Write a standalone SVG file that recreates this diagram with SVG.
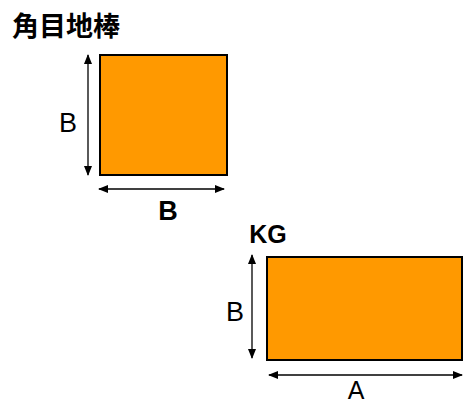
<svg xmlns="http://www.w3.org/2000/svg" width="469" height="405" viewBox="0 0 469 405">
<style>
.box{fill:#FF9900;stroke:#000;stroke-width:2}
.dim{stroke:#000;stroke-width:1.3;fill:none;marker-start:url(#ah);marker-end:url(#ah)}
.lbl{font-family:"Liberation Sans",Arial,sans-serif;font-size:27px;fill:#000}
.b{font-weight:bold}
</style>
<defs>
<marker id="ah" viewBox="0 0 10 8" refX="9" refY="4" markerWidth="10" markerHeight="8" markerUnits="userSpaceOnUse" orient="auto-start-reverse">
<path d="M0,0L10,4L0,8Z" fill="#000"/>
</marker>
</defs>
<text x="12" y="36" style="font-family:'Noto Sans CJK JP','Noto Sans CJK SC',sans-serif;font-size:27px;font-weight:bold;fill:#000">角目地棒</text>
<g id="square">
<rect class="box" x="100" y="55" width="127" height="120"/>
</g>
<g id="rect">
<rect class="box" x="267" y="257" width="195" height="103"/>
</g>
<g id="connectors">
<line class="dim" x1="88" y1="55" x2="88" y2="175"/>
<line class="dim" x1="99" y1="189" x2="224" y2="189"/>
<line class="dim" x1="252" y1="255" x2="252" y2="358"/>
<line class="dim" x1="269" y1="375" x2="462" y2="375"/>
</g>
<text class="lbl" x="68" y="132" text-anchor="middle">B</text>
<text class="lbl b" x="168" y="220" text-anchor="middle">B</text>
<text class="lbl b" x="268" y="243" text-anchor="middle" style="font-size:25px">KG</text>
<text class="lbl" x="235" y="321" text-anchor="middle">B</text>
<text class="lbl" x="356" y="399" text-anchor="middle" style="font-size:25px">A</text>
</svg>
